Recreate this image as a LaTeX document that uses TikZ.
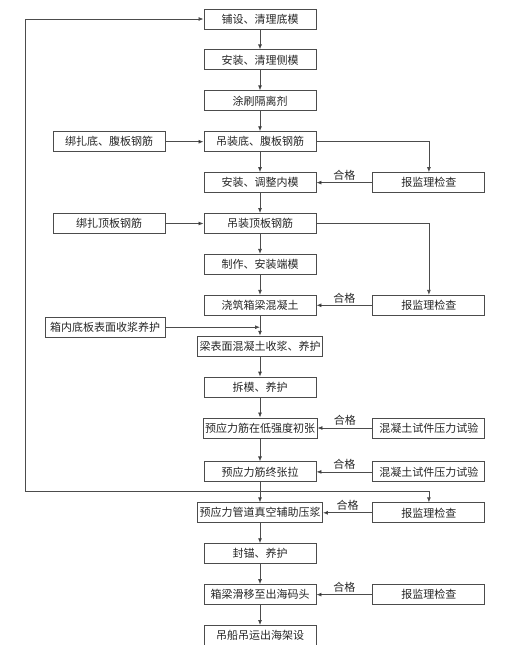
\documentclass[tikz,border=0pt]{standalone}
\usepackage{fontspec}
\setmainfont{Noto Sans CJK SC}
\usetikzlibrary{positioning,arrows.meta,quotes}
\newcommand{\clrbox}{black!70}
\newcommand{\clrline}{black!70}
\newcommand{\clrtext}{black!85}
\tikzset{%
  arrow/.style    = { -{Latex[length=5pt,width=4pt]}, line width = 0.8pt, draw = #1 },
  tbox/.style     = { draw = #1, line width = 0.9pt, text = \clrtext, align = center,
    font = \fontsize{11}{13}\selectfont, minimum width = 112pt, minimum height = 20pt,
    inner xsep = 2pt, inner ysep = 0pt, node distance = 20pt },
  every edge quotes/.style = { auto, font = \fontsize{11}{13}\selectfont, text = \clrtext, inner sep = 2pt },
}

\begin{document}
\begin{tikzpicture}
    \useasboundingbox (0pt,0pt) rectangle (527pt,-645pt);
    % nodes ----------------------------------------------------------------------------------------
    % main column
    \node(m1)  [tbox=\clrbox] at (260pt,-19pt)       {铺设、清理底模};
    \node(m2)  [tbox=\clrbox, below = of m1]         {安装、清理侧模};
    \node(m3)  [tbox=\clrbox, below = of m2]         {涂刷隔离剂};
    \node(m4)  [tbox=\clrbox, below = of m3]         {吊装底、腹板钢筋};
    \node(m5)  [tbox=\clrbox, below = of m4]         {安装、调整内模};
    \node(m6)  [tbox=\clrbox, below = of m5]         {吊装顶板钢筋};
    \node(m7)  [tbox=\clrbox, below = of m6]         {制作、安装端模};
    \node(m8)  [tbox=\clrbox, below = of m7]         {浇筑箱梁混凝土};
    \node(m9)  [tbox=\clrbox, below = of m8]         {梁表面混凝土收浆、养护};
    \node(m10) [tbox=\clrbox, below = of m9]         {拆模、养护};
    \node(m11) [tbox=\clrbox, below = of m10]        {预应力筋在低强度初张};
    \node(m12) [tbox=\clrbox, below = 23pt of m11]   {预应力筋终张拉};
    \node(m13) [tbox=\clrbox, below = of m12]        {预应力管道真空辅助压浆};
    \node(m14) [tbox=\clrbox, below = of m13]        {封锚、养护};
    \node(m15) [tbox=\clrbox, below = of m14]        {箱梁滑移至出海码头};
    \node(m16) [tbox=\clrbox, below = of m15]        {吊船吊运出海架设};
    % left column
    \node(l1) [tbox=\clrbox, left = 38pt of m4]      {绑扎底、腹板钢筋};
    \node(l2) [tbox=\clrbox, left = 38pt of m6]      {绑扎顶板钢筋};
    \node(l3) [tbox=\clrbox, minimum width = 120pt, below left = 1pt and 38pt of m8] {箱内底板表面收浆养护};
    % right column
    \node(r1) [tbox=\clrbox, right = 56pt of m5]     {报监理检查};
    \node(r2) [tbox=\clrbox] at (m8 -| r1)           {报监理检查};
    \node(r3) [tbox=\clrbox] at (m11 -| r1)          {混凝土试件压力试验};
    \node(r4) [tbox=\clrbox] at (m12 -| r1)          {混凝土试件压力试验};
    \node(r5) [tbox=\clrbox] at (m13 -| r1)          {报监理检查};
    \node(r6) [tbox=\clrbox] at (m15 -| r1)          {报监理检查};
    % loop corners
    \coordinate[below = 9pt of m12] (j);
    \coordinate[left = 235pt of j]  (lc);
    % arrows ---------------------------------------------------------------------------------------
    % main flow
    \draw[arrow=\clrline] (m1)  edge (m2);
    \draw[arrow=\clrline] (m2)  edge (m3);
    \draw[arrow=\clrline] (m3)  edge (m4);
    \draw[arrow=\clrline] (m4)  edge (m5);
    \draw[arrow=\clrline] (m5)  edge (m6);
    \draw[arrow=\clrline] (m6)  edge (m7);
    \draw[arrow=\clrline] (m7)  edge (m8);
    \draw[arrow=\clrline] (m8)  edge (m9);
    \draw[arrow=\clrline] (m9)  edge (m10);
    \draw[arrow=\clrline] (m10) edge (m11);
    \draw[arrow=\clrline] (m11) edge (m12);
    \draw[arrow=\clrline] (m12) edge (m13);
    \draw[arrow=\clrline] (m13) edge (m14);
    \draw[arrow=\clrline] (m14) edge (m15);
    \draw[arrow=\clrline] (m15) edge (m16);
    % side inputs
    \draw[arrow=\clrline] (l1) edge (m4);
    \draw[arrow=\clrline] (l2) edge (m6);
    \draw[arrow=\clrline] (l3) -- (l3 -| m8);
    % inspections
    \draw[arrow=\clrline] (m4.east) -| (r1);
    \draw[arrow=\clrline] (m6.east) -| (r2);
    \draw[arrow=\clrline] (j) -| (r5);
    % passed
    \draw[arrow=\clrline] (r1) edge["合格"'] (m5);
    \draw[arrow=\clrline] (r2) edge["合格"'] (m8);
    \draw[arrow=\clrline] (r3) edge["合格"'] (m11);
    \draw[arrow=\clrline] (r4) edge["合格"'] (m12);
    \draw[arrow=\clrline] (r5) edge["合格"'] (m13);
    \draw[arrow=\clrline] (r6) edge["合格"'] (m15);
    % back to start
    \draw[arrow=\clrline] (j) -- (lc) |- (m1);
  \end{tikzpicture}
\end{document}
